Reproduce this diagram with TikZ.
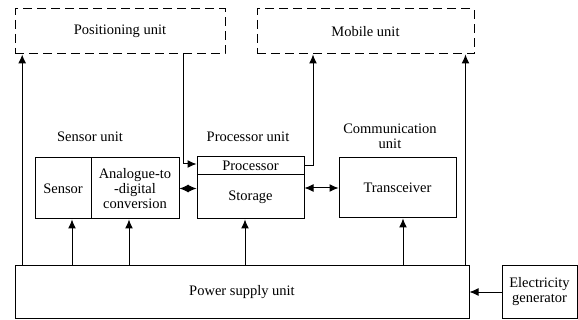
\documentclass[tikz,border=0pt]{standalone}
\usepackage{fontspec}
\setmainfont{Liberation Serif}
\usetikzlibrary{calc,arrows.meta}
\tikzset{
  bloc/.style={draw, line width=1pt, inner sep=1pt, align=center},
  pointille/.style={bloc, dash pattern=on 9pt off 5pt},
  fleche/.style={line width=1pt, -{Latex[length=9pt,width=8pt]}},
  dfleche/.style={line width=1pt, {Latex[length=9pt,width=8pt]}-{Latex[length=9pt,width=8pt]}}
}

\begin{document}
\begin{tikzpicture}[x=1pt, y=-1pt, font=\fontsize{14.5}{15}\selectfont]
                \useasboundingbox (0,0) rectangle (578,320);

                \node[pointille, minimum width=210pt, minimum height=45pt] (pos) at (120,31.5) {Positioning unit};
                \node[pointille, minimum width=217pt, minimum height=45pt] (mob) at (365.5,31.5) {Mobile unit};

                \node (lsens) at (90,137) {Sensor unit};
                \node (lproc) at (248,137) {Processor unit};
                \node[align=center] (lcomm) at (390,136) {Communication\\unit};

                \node[bloc, minimum width=56pt, minimum height=61pt] (sens) at (63,188.5) {Sensor};
                \node[bloc, minimum width=88pt, minimum height=61pt] (adc) at (135,188.5) {Analogue-to\\-digital\\conversion};
                \node[bloc, minimum width=107pt, minimum height=18pt] (proc) at (250.5,166) {Processor};
                \node[bloc, minimum width=107pt, minimum height=44pt] (stor) at (250.5,197) {Storage};
                \node[bloc, minimum width=117pt, minimum height=60pt] (trx) at (397.5,188) {Transceiver};

                \node[bloc, minimum width=454pt, minimum height=52pt] (psu) at (242,292) {Power supply unit};
                \node[bloc, minimum width=75pt, minimum height=52pt] (gen) at (539.5,292) {Electricity\\generator};

                % alimentation vers le haut
                \draw[fleche] ([xshift=7.7pt]psu.north west) -- ([xshift=7.7pt]pos.south west);
                \draw[fleche] ([xshift=-4pt]psu.north east) -- ([xshift=-9pt]mob.south east);
                \draw[fleche] ([xshift=9pt]sens.south |- psu.north) -- ([xshift=9pt]sens.south);
                \draw[fleche] ([xshift=-6pt]adc.south |- psu.north) -- ([xshift=-6pt]adc.south);
                \draw[fleche] ([xshift=-5.5pt]stor.south |- psu.north) -- ([xshift=-5.5pt]stor.south);
                \draw[fleche] ([xshift=5.5pt]trx.south |- psu.north) -- ([xshift=5.5pt]trx.south);
                \draw[fleche] (gen.west) -- (psu.east);

                % positionnement et mobile
                \draw[fleche] ([xshift=-42pt]pos.south east) |- ([yshift=2pt]proc.west);
                \draw[fleche] (proc.east) -| ([xshift=-52.5pt]mob.south);

                \draw[dfleche] (adc.east) -- (adc.east -| stor.west);
                \draw[dfleche] (trx.west -| stor.east) -- (trx.west);
            \end{tikzpicture}
\end{document}
